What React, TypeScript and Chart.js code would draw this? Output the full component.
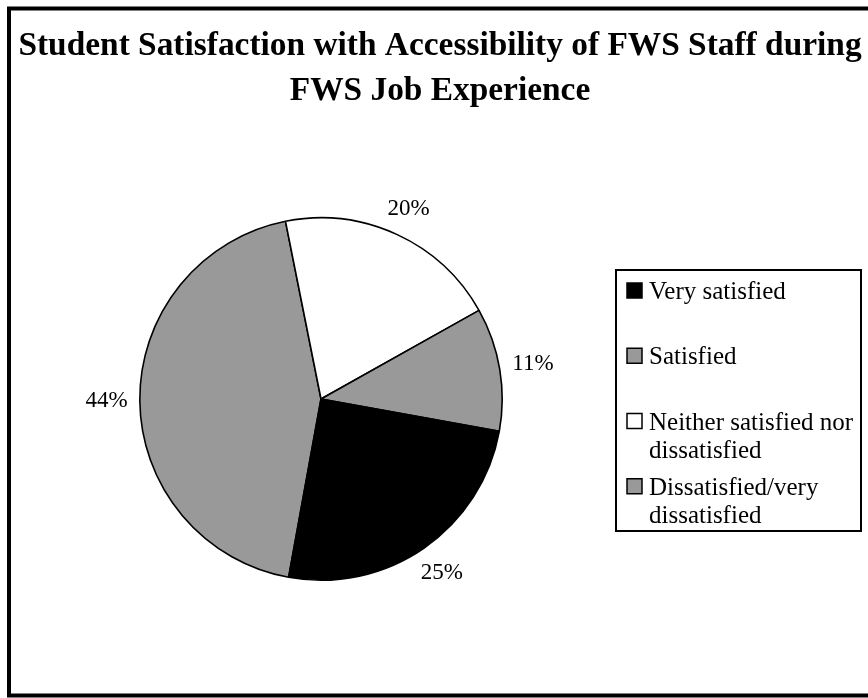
import React, { useEffect, useRef } from 'react';
import { Chart, registerables } from 'chart.js';

Chart.register(...registerables);

const TITLE_LINES = [
  'Student Satisfaction with Accessibility of FWS Staff during',
  'FWS Job Experience',
];
const CATEGORIES = [
  'Very satisfied',
  'Satisfied',
  'Neither satisfied nor dissatisfied',
  'Dissatisfied/very dissatisfied',
];
const LEGEND_LINES = [
  ['Very satisfied'],
  ['Satisfied'],
  ['Neither satisfied nor', 'dissatisfied'],
  ['Dissatisfied/very', 'dissatisfied'],
];
const VALUES = [25, 11, 20, 44];
const COLORS = ['#000000', '#999999', '#ffffff', '#999999'];

const W = 868;
const H = 698;
const SERIF = '"Liberation Serif", "Times New Roman", serif';

const decorPlugin = {
  id: 'decor',
  afterDraw(chart: any) {
    const ctx = chart.ctx as CanvasRenderingContext2D;
    ctx.save();

    // outer frame
    ctx.strokeStyle = '#000';
    ctx.lineWidth = 4;
    ctx.strokeRect(9, 8.5, 884, 687);

    // title
    ctx.fillStyle = '#000';
    ctx.font = `bold 33.4px ${SERIF}`;
    ctx.textAlign = 'center';
    ctx.textBaseline = 'alphabetic';
    TITLE_LINES.forEach((t, i) => ctx.fillText(t, 440, 55 + i * 45));

    // percent labels
    const meta = chart.getDatasetMeta(0);
    const data = chart.data.datasets[0].data as number[];
    const total = data.reduce((a, b) => a + b, 0);
    ctx.font = `23px ${SERIF}`;
    ctx.textBaseline = 'middle';
    meta.data.forEach((arc: any, i: number) => {
      const p = arc.getProps(['x', 'y', 'startAngle', 'endAngle', 'outerRadius'], true);
      const mid = (p.startAngle + p.endAngle) / 2;
      const text = Math.round((data[i] / total) * 100) + '%';
      const w = ctx.measureText(text).width;
      const h = 17;
      const c = Math.cos(mid);
      const s = Math.sin(mid);
      const d = p.outerRadius + 12 + Math.abs(c) * w / 2 + Math.abs(s) * h / 2;
      ctx.fillText(text, p.x + c * d, p.y + s * d);
    });

    // legend
    const boxL = 616, boxT = 270, boxR = 861, boxB = 531;
    ctx.lineWidth = 2;
    ctx.strokeRect(boxL, boxT, boxR - boxL, boxB - boxT);
    const slot = (boxB - boxT) / CATEGORIES.length;
    ctx.font = `25px ${SERIF}`;
    ctx.textAlign = 'left';
    ctx.textBaseline = 'alphabetic';
    CATEGORIES.forEach((_, i) => {
      const base = boxT + i * slot + 29;
      ctx.fillStyle = COLORS[i];
      ctx.fillRect(627, base - 16, 15, 15);
      ctx.strokeStyle = '#000';
      ctx.lineWidth = 1.5;
      ctx.strokeRect(627, base - 16, 15, 15);
      ctx.fillStyle = '#000';
      LEGEND_LINES[i].forEach((line, j) => ctx.fillText(line, 649, base + j * 28));
    });

    ctx.restore();
  },
};

export default function App() {
  const ref = useRef<HTMLCanvasElement | null>(null);

  useEffect(() => {
    if (!ref.current) return;
    // Chart.js draws clockwise; the reference runs counter-clockwise, so reverse
    const labels = [...CATEGORIES].reverse();
    const values = [...VALUES].reverse();
    const colors = [...COLORS].reverse();
    const chart = new Chart(ref.current, {
      type: 'pie',
      data: {
        labels,
        datasets: [
          {
            data: values,
            backgroundColor: colors,
            borderColor: '#000',
            borderWidth: 1.6,
          },
        ],
      },
      options: {
        responsive: false,
        animation: false,
        rotation: 190.3,
        layout: { padding: { left: 139, top: 217, right: 365, bottom: 117 } },
        plugins: {
          legend: { display: false },
          title: { display: false },
          tooltip: { enabled: false },
        },
      },
      plugins: [decorPlugin],
    });
    return () => chart.destroy();
  }, []);

  return (
    <div style={{ position: 'fixed', left: 0, top: 0, width: W, height: H, background: '#fff' }}>
      <canvas ref={ref} width={W} height={H} style={{ display: 'block' }} />
    </div>
  );
}
